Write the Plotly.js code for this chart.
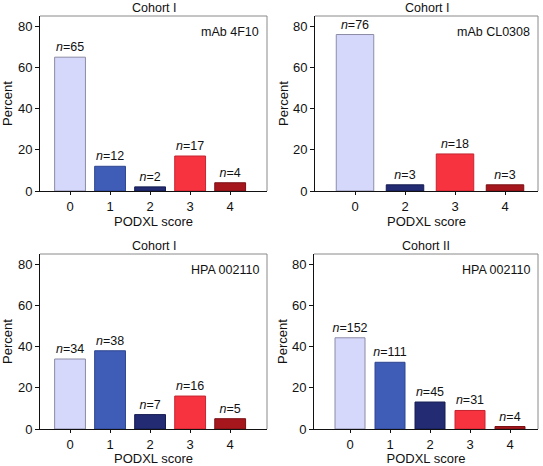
<!DOCTYPE html>
<html><head><meta charset="utf-8">
<script src="https://cdn.plot.ly/plotly-3.0.1.min.js"></script>
<style>html,body{margin:0;padding:0;background:#fff}#chart{width:543px;height:466px}</style>
</head><body><div id="chart"></div>
<script>
// ---- data ----
const cohorts = ["Cohort I", "Cohort I", "Cohort I", "Cohort II"];
const antibodies = ["mAb 4F10", "mAb CL0308", "HPA 002110", "HPA 002110"];
const scoresA = ["0", "1", "2", "3", "4"];
const scoresB = ["0", "2", "3", "4"];
const pctA = [65, 12, 2, 17, 4];
const nA = [65, 12, 2, 17, 4];
const pctB = [76, 3, 18, 3];
const nB = [76, 3, 18, 3];
const pctC = [34, 38, 7, 16, 5];
const nC = [34, 38, 7, 16, 5];
const pctD = [44.3, 32.4, 13.1, 9.0, 1.2];
const nD = [152, 111, 45, 31, 4];
const yTicks = [0, 20, 40, 60, 80];
const xTitle = "PODXL score";
const yTitle = "Percent";

// ---- styling ----
const W = 543, H = 466;
const fill = {"0": "#d5d7fb", "1": "#3f5cb6", "2": "#232b72", "3": "#f7333f", "4": "#a5171c"};
const edge = {"0": "#8c8ca6", "1": "#2e4690", "2": "#161c52", "3": "#c42530", "4": "#7a1014"};
const FONT = "Liberation Sans, Arial, sans-serif";

const panels = [
  {cats: scoresA, pct: pctA, n: nA, px: [40, 267], py: [16, 191], xr: [-0.75, 4.92], w: 0.77, ys: 6},
  {cats: scoresB, pct: pctB, n: nB, px: [315, 538], py: [16, 191], xr: [-0.8, 3.66], w: 0.75, ys: 1},
  {cats: scoresA, pct: pctC, n: nC, px: [40, 267], py: [254, 429], xr: [-0.75, 4.92], w: 0.77, ys: 6},
  {cats: scoresA, pct: pctD, n: nD, px: [314, 538], py: [254, 429], xr: [-0.9, 4.7], w: 0.75, ys: 1}
];

const data = [];
const layout = {
  width: W, height: H, margin: {l: 0, r: 0, t: 0, b: 0},
  paper_bgcolor: "#fff", plot_bgcolor: "#fff", showlegend: false,
  font: {family: FONT, size: 13, color: "#111"},
  annotations: [], shapes: []
};

panels.forEach((p, i) => {
  const k = i === 0 ? "" : String(i + 1);
  const xa = "x" + k, ya = "y" + k;
  data.push({
    type: "bar", x: p.cats, y: p.pct, xaxis: xa, yaxis: ya,
    width: p.w,
    marker: {color: p.cats.map(c => fill[c]), line: {color: p.cats.map(c => edge[c]), width: 1}},
    text: p.n.map(v => "<i>n</i>=" + v), textposition: "outside", cliponaxis: false,
    constraintext: "none",
    textfont: {family: FONT, size: 12.5, color: "#111"}, hoverinfo: "skip"
  });
  const xd = [p.px[0] / W, p.px[1] / W];
  const yd = [(H - p.py[1]) / H, (H - p.py[0]) / H];
  layout["xaxis" + k] = {
    domain: xd, anchor: ya, type: "category", range: p.xr,
    showline: true, linecolor: "#111", linewidth: 1, mirror: false,
    ticks: "outside", ticklen: 3, tickcolor: "#111", showgrid: false, zeroline: false,
    tickfont: {family: FONT, size: 13, color: "#111"},
    title: {text: xTitle, font: {family: FONT, size: 13, color: "#111"}, standoff: 2}
  };
  layout["yaxis" + k] = {
    domain: yd, anchor: xa, range: [0, 85], tickvals: yTicks,
    showline: true, linecolor: "#111", linewidth: 1, mirror: false,
    ticks: "outside", ticklen: 4, tickcolor: "#111", showgrid: false, zeroline: false,
    tickfont: {family: FONT, size: 13, color: "#111"},
    title: {text: yTitle, font: {family: FONT, size: 13, color: "#111"}, standoff: p.ys}
  };
  // grey frame (top/right)
  layout.shapes.push({type: "line", xref: xa + " domain", yref: ya + " domain", x0: 0, x1: 1, y0: 1, y1: 1, line: {color: "#8a8a8a", width: 1}});
  layout.shapes.push({type: "line", xref: xa + " domain", yref: ya + " domain", x0: 1, x1: 1, y0: 0, y1: 1, line: {color: "#8a8a8a", width: 1}});
  // cohort title
  layout.annotations.push({
    text: cohorts[i], xref: "paper", yref: "paper",
    x: (xd[0] + xd[1]) / 2, y: yd[1], yanchor: "bottom", xanchor: "center", yshift: -1,
    showarrow: false, font: {family: FONT, size: 12.5, color: "#111"}
  });
  // antibody label
  layout.annotations.push({
    text: antibodies[i], xref: xa + " domain", yref: ya + " domain",
    x: 1, y: 1, xanchor: "right", yanchor: "top", xshift: -6, yshift: -7,
    showarrow: false, font: {family: FONT, size: 12.5, color: "#111"}
  });
});

Plotly.newPlot("chart", data, layout, {staticPlot: true, displayModeBar: false});
</script></body></html>
